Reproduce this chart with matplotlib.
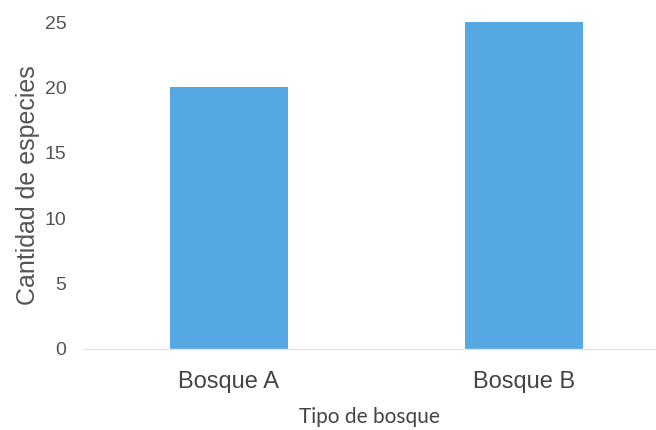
import matplotlib
matplotlib.use("Agg")
import matplotlib.pyplot as plt

# datos
bosques = ["Bosque A", "Bosque B"]
especies = [20, 25]

plt.rcParams['font.family'] = ['Liberation Sans', 'DejaVu Sans']

fig = plt.figure(figsize=(6.56, 4.30), dpi=100)
ax = fig.add_axes([0.1265, 0.1884, 0.872, 0.7604])

ax.bar(range(len(bosques)), especies, width=0.4, color="#55a8e2", zorder=2)

ax.set_xlim(-0.495, 1.445)
ax.set_ylim(0, 25)
ax.set_yticks([0, 5, 10, 15, 20, 25])
ax.set_xticks(range(len(bosques)))
ax.set_xticklabels(bosques)

for s in ["top", "right", "left"]:
    ax.spines[s].set_visible(False)
ax.spines["bottom"].set_color("#e4e4e4")
ax.spines["bottom"].set_linewidth(1)

ax.tick_params(axis="y", length=0, pad=12, labelsize=14, labelcolor="#555555")
ax.tick_params(axis="x", length=0, pad=16, labelsize=17, labelcolor="#444444")

ax.set_ylabel("Cantidad de especies", fontsize=18, color="#555555", labelpad=3)
ax.set_xlabel("Tipo de bosque", fontsize=15, color="#444444", labelpad=10,
              family=["Lato", "DejaVu Sans"])

fig.savefig("out.png", dpi=100, facecolor="white")
